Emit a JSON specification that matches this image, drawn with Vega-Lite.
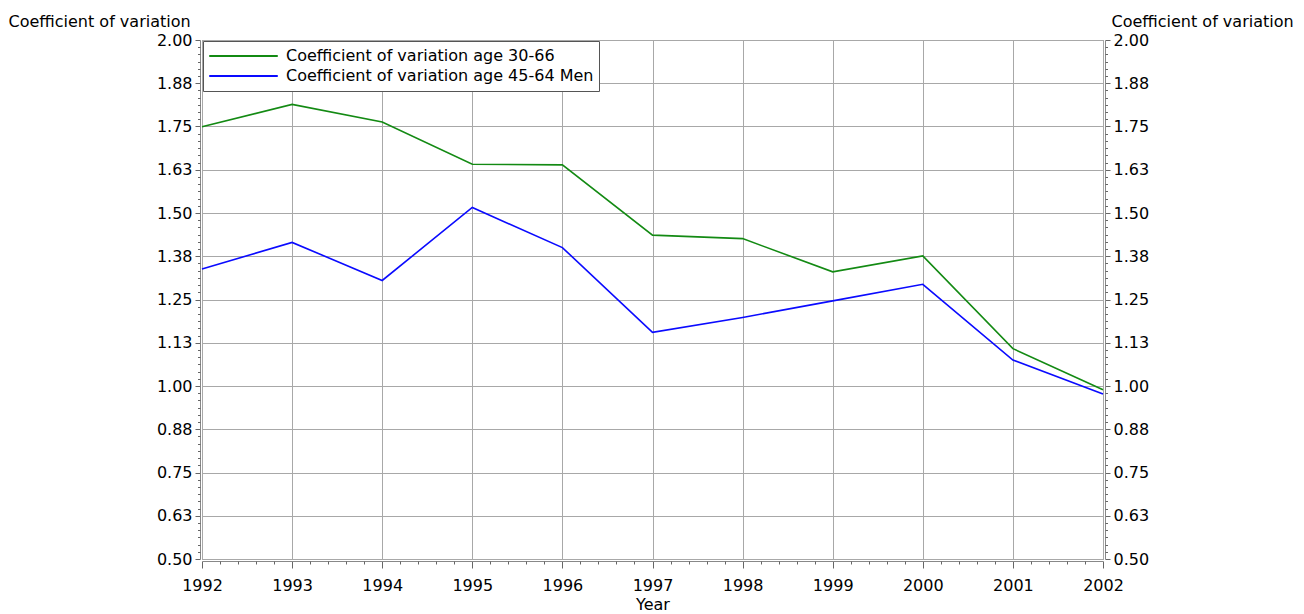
{
  "$schema": "https://vega.github.io/schema/vega-lite/v6.json",
  "width": 901,
  "height": 519,
  "autosize": {"type": "none"},
  "padding": {"left": 202, "top": 40, "right": 201, "bottom": 55},
  "background": "white",
  "config": {
    "font": "DejaVu Sans",
    "view": {"stroke": "#888888", "strokeWidth": 1},
    "axis": {
      "labelFont": "DejaVu Sans",
      "labelFontSize": 16,
      "labelColor": "black",
      "titleFont": "DejaVu Sans",
      "titleFontSize": 16,
      "titleFontWeight": "normal",
      "titleColor": "black",
      "domainColor": "#888888",
      "tickColor": "#666666",
      "gridColor": "#a8a8a8",
      "gridOpacity": 1
    },
    "legend": {
      "labelFont": "DejaVu Sans",
      "labelFontSize": 16,
      "labelColor": "black",
      "labelLimit": 500,
      "strokeColor": "#555555",
      "fillColor": "white",
      "padding": 5,
      "cornerRadius": 0,
      "symbolType": "stroke",
      "symbolSize": 4700,
      "symbolStrokeWidth": 2,
      "clipHeight": 20,
      "rowPadding": 0,
      "labelOffset": 7
    }
  },
  "data": {
    "values": [
      {"year": 1992, "series": "Coefficient of variation age 30-66", "value": 1.749},
      {"year": 1993, "series": "Coefficient of variation age 30-66", "value": 1.814},
      {"year": 1994, "series": "Coefficient of variation age 30-66", "value": 1.763},
      {"year": 1995, "series": "Coefficient of variation age 30-66", "value": 1.641},
      {"year": 1996, "series": "Coefficient of variation age 30-66", "value": 1.639},
      {"year": 1997, "series": "Coefficient of variation age 30-66", "value": 1.436},
      {"year": 1998, "series": "Coefficient of variation age 30-66", "value": 1.426},
      {"year": 1999, "series": "Coefficient of variation age 30-66", "value": 1.330},
      {"year": 2000, "series": "Coefficient of variation age 30-66", "value": 1.376},
      {"year": 2001, "series": "Coefficient of variation age 30-66", "value": 1.108},
      {"year": 2002, "series": "Coefficient of variation age 30-66", "value": 0.989},
      {"year": 1992, "series": "Coefficient of variation age 45-64 Men", "value": 1.338},
      {"year": 1993, "series": "Coefficient of variation age 45-64 Men", "value": 1.415},
      {"year": 1994, "series": "Coefficient of variation age 45-64 Men", "value": 1.305},
      {"year": 1995, "series": "Coefficient of variation age 45-64 Men", "value": 1.516},
      {"year": 1996, "series": "Coefficient of variation age 45-64 Men", "value": 1.400},
      {"year": 1997, "series": "Coefficient of variation age 45-64 Men", "value": 1.155},
      {"year": 1998, "series": "Coefficient of variation age 45-64 Men", "value": 1.198},
      {"year": 1999, "series": "Coefficient of variation age 45-64 Men", "value": 1.246},
      {"year": 2000, "series": "Coefficient of variation age 45-64 Men", "value": 1.294},
      {"year": 2001, "series": "Coefficient of variation age 45-64 Men", "value": 1.075},
      {"year": 2002, "series": "Coefficient of variation age 45-64 Men", "value": 0.977}
    ]
  },
  "layer": [
    {
      "mark": {"type": "line", "strokeWidth": 1.6},
      "encoding": {
        "x": {
          "field": "year", "type": "quantitative",
          "scale": {"domain": [1992, 2002], "nice": false, "zero": false},
          "axis": {
            "orient": "bottom",
            "values": [1992, 1993, 1994, 1995, 1996, 1997, 1998, 1999, 2000, 2001, 2002],
            "format": "d", "grid": true, "labelFlush": false, "labelOverlap": false,
            "tickSize": 7, "labelPadding": 9, "offset": 2,
            "title": "Year", "titlePadding": 3
          }
        },
        "y": {
          "field": "value", "type": "quantitative",
          "scale": {"domain": [0.5, 2], "nice": false, "zero": false},
          "axis": {
            "orient": "left",
            "values": [0.5, 0.625, 0.75, 0.875, 1, 1.125, 1.25, 1.375, 1.5, 1.625, 1.75, 1.875, 2],
            "format": ".2f", "grid": true, "labelOverlap": false, "labelFlush": false,
            "tickSize": 5, "labelPadding": 3, "offset": 2,
            "title": "Coefficient of variation", "titleAngle": 0,
            "titleX": -192, "titleY": -14, "titleAlign": "left", "titleBaseline": "alphabetic"
          }
        },
        "color": {
          "field": "series", "type": "nominal",
          "scale": {
            "domain": ["Coefficient of variation age 30-66", "Coefficient of variation age 45-64 Men"],
            "range": ["#138a13", "#0a0aff"]
          },
          "legend": {"orient": "none", "legendX": 1, "legendY": 1, "title": null}
        }
      }
    },
    {
      "mark": {"type": "line", "opacity": 0},
      "encoding": {
        "x": {
          "field": "year", "type": "quantitative",
          "axis": {
            "orient": "bottom",
            "values": [1992.2, 1992.4, 1992.6, 1992.8, 1993.2, 1993.4, 1993.6, 1993.8, 1994.2, 1994.4, 1994.6, 1994.8, 1995.2, 1995.4, 1995.6, 1995.8, 1996.2, 1996.4, 1996.6, 1996.8, 1997.2, 1997.4, 1997.6, 1997.8, 1998.2, 1998.4, 1998.6, 1998.8, 1999.2, 1999.4, 1999.6, 1999.8, 2000.2, 2000.4, 2000.6, 2000.8, 2001.2, 2001.4, 2001.6, 2001.8],
            "labels": false, "domain": false, "grid": false, "tickSize": 3, "offset": 2, "title": null
          }
        },
        "y": {
          "field": "value", "type": "quantitative",
          "axis": {
            "orient": "right",
            "values": [0.5, 0.625, 0.75, 0.875, 1, 1.125, 1.25, 1.375, 1.5, 1.625, 1.75, 1.875, 2],
            "format": ".2f", "grid": false, "labelOverlap": false, "labelFlush": false,
            "tickSize": 5, "labelPadding": 3, "offset": 2,
            "title": "Coefficient of variation", "titleAngle": 0,
            "titleX": 6, "titleY": -14, "titleAlign": "left", "titleBaseline": "alphabetic"
          }
        },
        "detail": {"field": "series", "type": "nominal"}
      }
    },
    {
      "mark": {"type": "line", "opacity": 0},
      "encoding": {
        "x": {"field": "year", "type": "quantitative", "axis": null},
        "y": {
          "field": "value", "type": "quantitative",
          "axis": {
            "orient": "left",
            "values": [0.5208, 0.5417, 0.5625, 0.5833, 0.6042, 0.6458, 0.6667, 0.6875, 0.7083, 0.7292, 0.7708, 0.7917, 0.8125, 0.8333, 0.8542, 0.8958, 0.9167, 0.9375, 0.9583, 0.9792, 1.0208, 1.0417, 1.0625, 1.0833, 1.1042, 1.1458, 1.1667, 1.1875, 1.2083, 1.2292, 1.2708, 1.2917, 1.3125, 1.3333, 1.3542, 1.3958, 1.4167, 1.4375, 1.4583, 1.4792, 1.5208, 1.5417, 1.5625, 1.5833, 1.6042, 1.6458, 1.6667, 1.6875, 1.7083, 1.7292, 1.7708, 1.7917, 1.8125, 1.8333, 1.8542, 1.8958, 1.9167, 1.9375, 1.9583, 1.9792],
            "labels": false, "domain": false, "grid": false, "tickSize": 2.5, "offset": 2, "title": null
          }
        },
        "detail": {"field": "series", "type": "nominal"}
      }
    },
    {
      "mark": {"type": "line", "opacity": 0},
      "encoding": {
        "x": {"field": "year", "type": "quantitative", "axis": null},
        "y": {
          "field": "value", "type": "quantitative",
          "axis": {
            "orient": "right",
            "values": [0.5208, 0.5417, 0.5625, 0.5833, 0.6042, 0.6458, 0.6667, 0.6875, 0.7083, 0.7292, 0.7708, 0.7917, 0.8125, 0.8333, 0.8542, 0.8958, 0.9167, 0.9375, 0.9583, 0.9792, 1.0208, 1.0417, 1.0625, 1.0833, 1.1042, 1.1458, 1.1667, 1.1875, 1.2083, 1.2292, 1.2708, 1.2917, 1.3125, 1.3333, 1.3542, 1.3958, 1.4167, 1.4375, 1.4583, 1.4792, 1.5208, 1.5417, 1.5625, 1.5833, 1.6042, 1.6458, 1.6667, 1.6875, 1.7083, 1.7292, 1.7708, 1.7917, 1.8125, 1.8333, 1.8542, 1.8958, 1.9167, 1.9375, 1.9583, 1.9792],
            "labels": false, "domain": false, "grid": false, "tickSize": 2.5, "offset": 2, "title": null
          }
        },
        "detail": {"field": "series", "type": "nominal"}
      }
    }
  ],
  "resolve": {"axis": {"x": "independent", "y": "independent"}}
}
